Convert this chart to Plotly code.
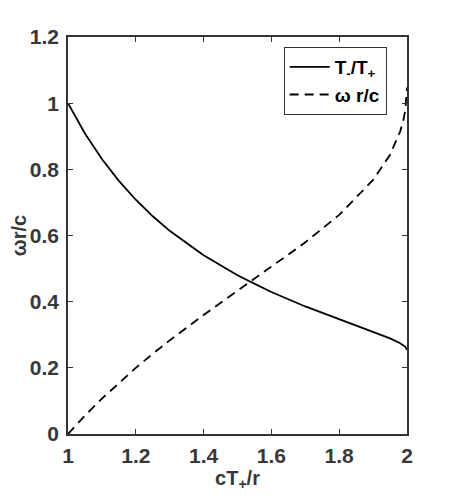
import plotly.graph_objects as go

# Data
x_vals = [1.0, 1.05, 1.1, 1.15, 1.2, 1.25, 1.3, 1.4, 1.5, 1.6, 1.7, 1.8, 1.9, 1.95, 1.98, 1.99, 1.995, 2.0]
t_ratio = [1.0, 0.9084, 0.8311, 0.7651, 0.7081, 0.6581, 0.6141, 0.5400, 0.4796, 0.4291, 0.3855,
           0.3464, 0.3091, 0.2890, 0.2744, 0.2679, 0.2637, 0.2544]
omega_rc = [0.0, 0.0555, 0.1068, 0.1548, 0.1998, 0.2425, 0.2831, 0.3597, 0.4326, 0.5046, 0.5793,
            0.6624, 0.7680, 0.8442, 0.9148, 0.9519, 0.9789, 1.0472]

x_ticks = [1, 1.2, 1.4, 1.6, 1.8, 2]
x_ticklabels = ["1", "1.2", "1.4", "1.6", "1.8", "2"]
y_ticks = [0, 0.2, 0.4, 0.6, 0.8, 1.0, 1.2]
y_ticklabels = ["0", "0.2", "0.4", "0.6", "0.8", "1", "1.2"]

axis_color = "#333333"
text_color = "#383838"
font_family = "Liberation Sans, Arial, Helvetica, sans-serif"

fig = go.Figure()
fig.add_trace(go.Scatter(
    x=x_vals, y=t_ratio, mode="lines", name="T<sub>-</sub>/T<sub>+</sub>",
    legendgroup="a",
    line=dict(color="black", width=1.8),
))
fig.add_trace(go.Scatter(
    x=x_vals, y=omega_rc, mode="lines", name="\u03c9 r/c",
    legendgroup="b",
    line=dict(color="black", width=1.8, dash="9px,6px"),
))

axis_common = dict(
    showline=True, linecolor=axis_color, linewidth=1.5, mirror="ticks",
    ticks="inside", ticklen=5, tickwidth=1.2, tickcolor=axis_color,
    showgrid=False, zeroline=False,
    tickfont=dict(family=font_family, size=21, color=text_color, weight="bold"),
)

fig.update_xaxes(
    range=[1, 2], tickvals=x_ticks, ticktext=x_ticklabels, ticklabelstandoff=2,
    title=dict(text="cT<sub>+</sub>/r", standoff=2,
               font=dict(family=font_family, size=20, color=text_color, weight="bold")),
    **axis_common,
)
fig.update_yaxes(
    range=[0, 1.2], tickvals=y_ticks, ticktext=y_ticklabels, ticklabelstandoff=3,
    title=dict(text="\u03c9r/c", standoff=2,
               font=dict(family=font_family, size=20, color=text_color, weight="bold")),
    **axis_common,
)

fig.update_layout(
    width=450, height=500,
    margin=dict(l=59.5, r=50.5, t=29, b=74, autoexpand=False),
    paper_bgcolor="white", plot_bgcolor="white",
    showlegend=True,
    legend=dict(
        x=0.94, y=0.975, xanchor="right", yanchor="top",
        bordercolor=axis_color, borderwidth=1, bgcolor="white",
        font=dict(family=font_family, size=19, color="black", weight="bold"),
        tracegroupgap=0, itemwidth=40,
    ),
)

fig.write_html("out.html")
